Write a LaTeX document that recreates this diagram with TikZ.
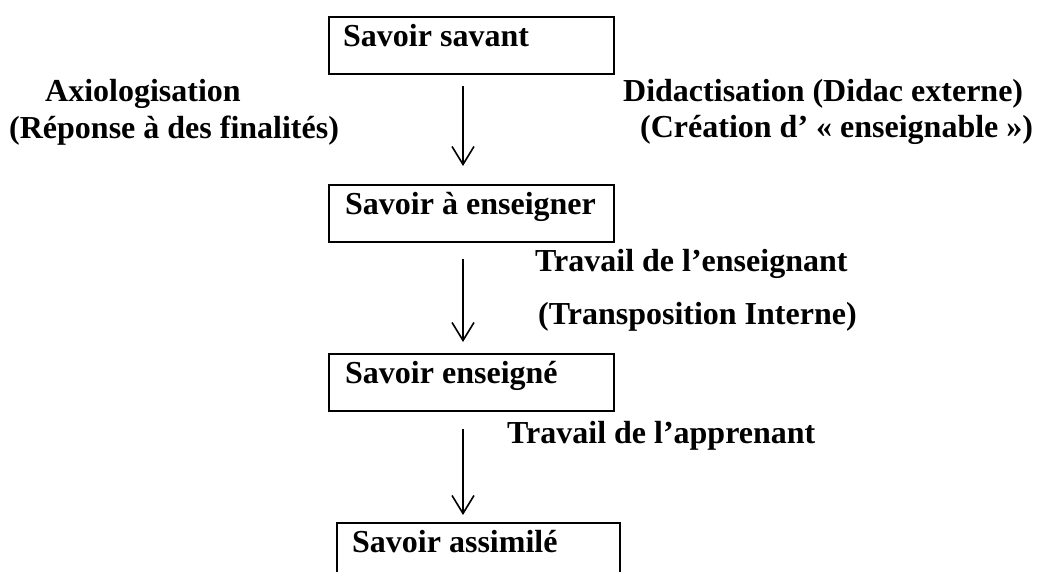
\documentclass[tikz,border=0pt]{standalone}
\usepackage{fontspec}
\setmainfont{Liberation Serif}
\usetikzlibrary{arrows.meta}
\begin{document}
\begin{tikzpicture}[x=1pt,y=-1pt,
  box/.style={draw,line width=2pt,anchor=north west,inner sep=0pt},
  lbl/.style={anchor=base west,inner sep=0pt,font=\fontsize{32}{36}\selectfont\bfseries},
  arr/.style={line width=1.6pt,-{Straight Barb[length=18pt,width=22pt,line width=1.6pt]}}]
\clip (0,0) rectangle (1053,572);
\useasboundingbox (0,0) rectangle (1053,572);
% boxes
\node[box,minimum width=285pt,minimum height=57pt] (b1) at (328,16) {};
\node[box,minimum width=285pt,minimum height=57pt] (b2) at (328,184) {};
\node[box,minimum width=285pt,minimum height=57pt] (b3) at (328,353) {};
\node[box,minimum width=283pt,minimum height=80pt] (b4) at (336,522) {};
% box texts
\node[lbl] (t1) at (343,47) {Savoir savant};
\node[lbl] (t2) at (345,215) {Savoir à enseigner};
\node[lbl] (t3) at (345,383) {Savoir enseigné};
\node[lbl] (t4) at (352,552) {Savoir assimilé};
% side labels
\node[lbl] (ax) at (45,102) {Axiologisation};
\node[lbl] (rep) at (9,139) {(Réponse à des finalités)};
\node[lbl] (did) at (623,102) {Didactisation (Didac externe)};
\node[lbl] (cre) at (640,138) {(Création d’ « enseignable »)};
\node[lbl] (tre) at (535,272) {Travail de l’enseignant};
\node[lbl] (tin) at (538,324) {(Transposition Interne)};
\node[lbl] (tap) at (507,443) {Travail de l’apprenant};
% arrows
\coordinate (axis) at (463,0);
\draw[arr] ([yshift=-11pt]b1.south -| axis) -- ([yshift=18pt]b2.north -| axis);
\draw[arr] ([yshift=-16pt]b2.south -| axis) -- ([yshift=11pt]b3.north -| axis);
\draw[arr] ([yshift=-17pt]b3.south -| axis) -- ([yshift=7pt]b4.north -| axis);
\end{tikzpicture}
\end{document}
